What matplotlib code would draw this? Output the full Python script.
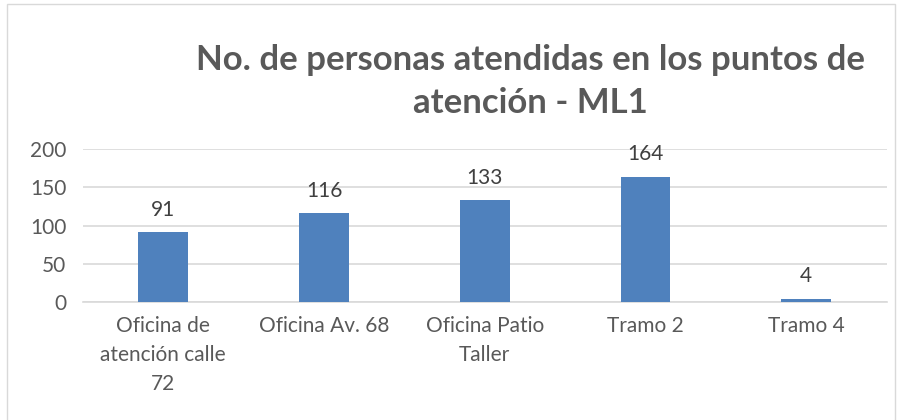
import matplotlib
matplotlib.use("Agg")
import matplotlib.pyplot as plt
from matplotlib.patches import Rectangle

categories = ["Oficina de\natención calle\n72", "Oficina Av. 68", "Oficina Patio\nTaller", "Tramo 2", "Tramo 4"]
values = [91, 116, 133, 164, 4]
yticks = [0, 50, 100, 150, 200]
title = "No. de personas atendidas en los puntos de\natención - ML1"

plt.rcParams['font.family'] = ['Lato', 'DejaVu Sans']

fig = plt.figure(figsize=(9.01, 4.2), dpi=100)
ax = fig.add_axes([0.092, 0.281, 0.892, 0.364])

x = range(len(values))
bars = ax.bar(x, values, width=0.31, color="#4F81BD", zorder=3)
for xi, v in zip(x, values):
    ax.annotate(str(v), (xi, v), xytext=(0, 9), textcoords="offset points",
                ha="center", va="bottom", fontsize=15, color="#404040")

ax.set_ylim(0, 200)
ax.set_xlim(-0.5, len(values) - 0.5)
ax.set_yticks(yticks)
ax.set_xticks(list(x))
ax.set_xticklabels(categories, fontsize=15, color="#595959", linespacing=1.58)
ax.tick_params(axis="y", labelsize=15, labelcolor="#595959", length=0, pad=12)
ax.tick_params(axis="x", length=0, pad=10)
ax.grid(axis="y", color="#D9D9D9", linewidth=1.2, zorder=0)
for s in ["top", "right", "left"]:
    ax.spines[s].set_visible(False)
ax.spines["bottom"].set_color("#D9D9D9")
ax.spines["bottom"].set_linewidth(1.2)

fig.text(0.589, 0.807, title, ha="center", va="center", fontsize=25, fontweight="bold",
         color="#595959", linespacing=1.42)

fig.patches.append(Rectangle((0.008, -0.01), 0.985, 1.0, transform=fig.transFigure,
                             fill=False, edgecolor="#D9D9D9", linewidth=1.0))

fig.savefig("out.png", dpi=100)
